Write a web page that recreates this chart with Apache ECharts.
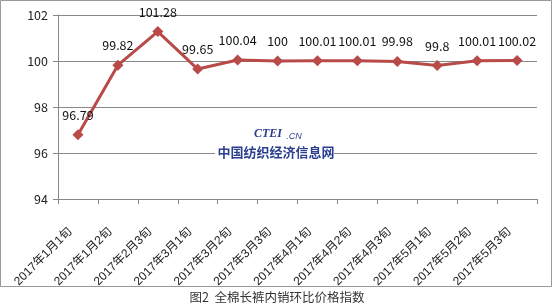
<!DOCTYPE html>
<html><head><meta charset="utf-8">
<script src="https://cdn.jsdelivr.net/npm/echarts@6/dist/echarts.min.js"></script>
<style>html,body{margin:0;padding:0;background:#fff}#c{width:553px;height:308px}</style>
</head><body><div id="c"></div>
<script>
const categories = ['2017年1月1旬','2017年1月2旬','2017年2月3旬','2017年3月1旬','2017年3月2旬','2017年3月3旬','2017年4月1旬','2017年4月2旬','2017年4月3旬','2017年5月1旬','2017年5月2旬','2017年5月3旬'];
const values = [96.79, 99.82, 101.28, 99.65, 100.04, 100, 100.01, 100.01, 99.98, 99.8, 100.01, 100.02];
const yTicks = [94, 96, 98, 100, 102];
const title = '图2  全棉长裤内销环比价格指数';
const font = '"Noto Sans CJK SC", "Liberation Sans", sans-serif';
const lblFont = '"Liberation Sans", "Noto Sans CJK SC", sans-serif';

const chart = echarts.init(document.getElementById('c'), null, {renderer: 'canvas'});
chart.setOption({
  animation: false,
  backgroundColor: '#fff',
  grid: {left: 58, right: 16, top: 15, bottom: 109, containLabel: false},
  xAxis: {
    type: 'category', data: categories, boundaryGap: true,
    axisLine: {lineStyle: {color: '#888', width: 1}},
    axisTick: {show: true, length: 5, lineStyle: {color: '#888'}},
    axisLabel: {rotate: 45, fontSize: 12, color: '#222', fontFamily: lblFont, margin: 23,
      formatter: v => '{t|' + v + '}{s| }',
      rich: {t: {fontSize: 12, fontFamily: lblFont, color: '#222'}, s: {width: 11, fontSize: 12}}}
  },
  yAxis: {
    type: 'value', min: yTicks[0], max: yTicks[yTicks.length - 1], interval: 2,
    axisLine: {show: true, lineStyle: {color: '#888'}},
    axisTick: {show: true, length: 5, lineStyle: {color: '#888'}},
    splitLine: {lineStyle: {color: '#888', width: 1}},
    axisLabel: {fontSize: 12.5, color: '#222', fontFamily: font, margin: 10}
  },
  series: [{
    type: 'line', data: values,
    lineStyle: {color: '#B84A48', width: 3},
    itemStyle: {color: '#B84A48'},
    symbol: 'diamond', symbolSize: 11,
    label: {show: true, position: 'top', distance: 8, fontSize: 12.5, color: '#111', fontFamily: font}
  }],
  graphic: [
    {type: 'rect', shape: {x: 0.5, y: 0.5, width: 551, height: 286}, style: {fill: 'none', stroke: '#999', lineWidth: 1}, z: -1},
    {type: 'rect', shape: {x: 215, y: 143, width: 119, height: 17}, style: {fill: '#fff'}, z: 10},
    {type: 'text', x: 276, y: 152, style: {text: '中国纺织经济信息网', font: 'bold 13px "Noto Sans CJK SC"', fill: '#2B3F8F', align: 'center', verticalAlign: 'middle'}, z: 11},
    {type: 'text', x: 268, y: 134, style: {text: 'CTEI', font: 'italic bold 12px "Liberation Serif"', fill: '#2B3F8F', align: 'center', verticalAlign: 'middle'}, z: 11},
    {type: 'text', x: 294, y: 136, style: {text: '.CN', font: 'italic 9px "Liberation Sans"', fill: '#2B3F8F', align: 'center', verticalAlign: 'middle'}, z: 11},
    {type: 'text', x: 277, y: 297, style: {text: title, font: '12.5px "Noto Sans CJK SC"', fill: '#333', align: 'center', verticalAlign: 'middle'}}
  ]
});
</script></body></html>
